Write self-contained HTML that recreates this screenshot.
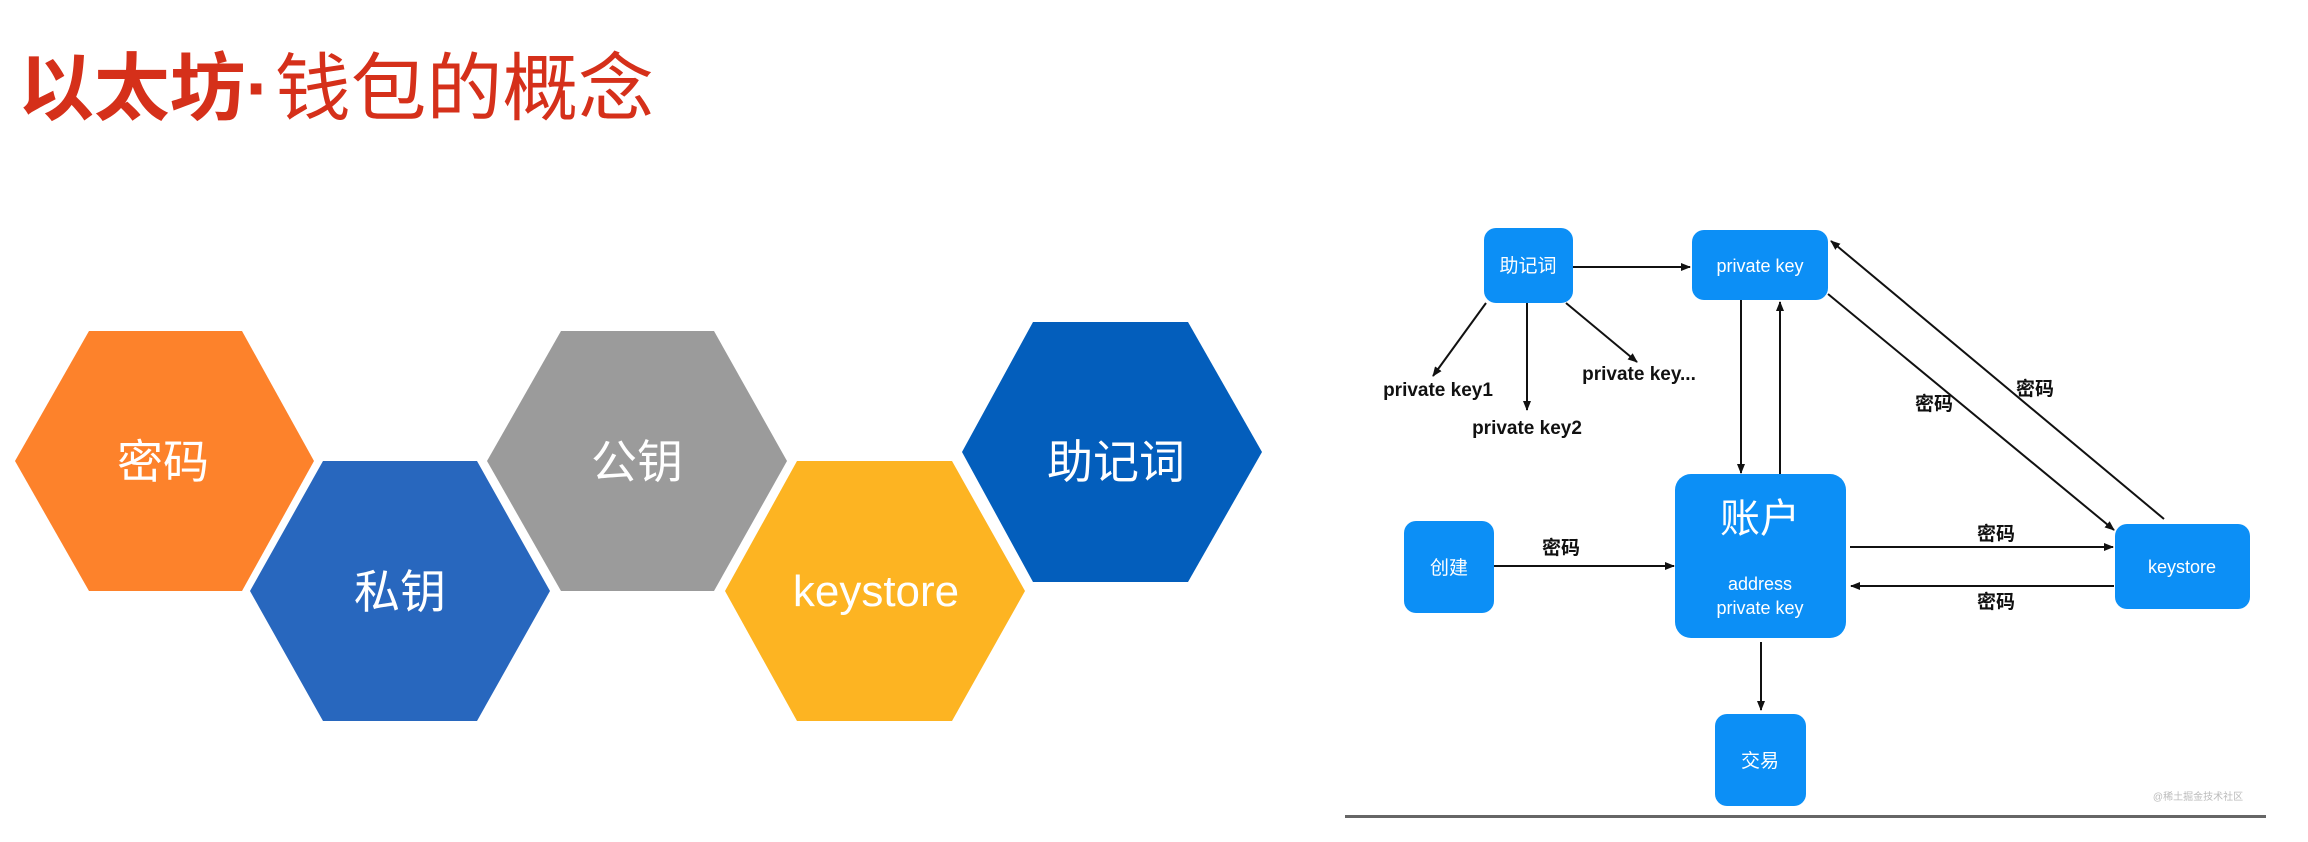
<!DOCTYPE html>
<html><head><meta charset="utf-8"><style>
html,body{margin:0;padding:0;background:#fff;width:2308px;height:842px;overflow:hidden}
svg{display:block}
</style></head><body>
<svg width="2308" height="842" viewBox="0 0 2308 842" xmlns="http://www.w3.org/2000/svg">
<defs>
<marker id="a" markerWidth="10" markerHeight="8" refX="9" refY="4" orient="auto" markerUnits="userSpaceOnUse">
<path d="M0,0 L10,4 L0,8 z" fill="#111"/></marker>
</defs>
<text x="18" y="114" font-family="Liberation Sans, Noto Sans CJK SC, sans-serif" font-size="74" fill="#D5301A" textLength="636" lengthAdjust="spacingAndGlyphs"><tspan font-weight="bold">以太坊·</tspan><tspan dx="4">钱包的概念</tspan></text>

<g font-family="Liberation Sans, Noto Sans CJK SC, sans-serif" fill="#fff" font-size="46" text-anchor="middle">
<polygon points="15,461 89,331 242,331 314,461 242,591 89,591" fill="#FD822B"/>
<text x="163" y="478">密码</text>
<polygon points="250,591 323,461 477,461 550,591 477,721 323,721" fill="#2867BE"/>
<text x="400" y="608">私钥</text>
<polygon points="487,461 561,331 714,331 787,461 714,591 561,591" fill="#9B9B9B"/>
<text x="637" y="478">公钥</text>
<polygon points="725,591 797,461 952,461 1025,591 952,721 797,721" fill="#FDB422"/>
<text x="876" y="606" font-size="44">keystore</text>
<polygon points="962,452 1033,322 1188,322 1262,452 1188,582 1033,582" fill="#035EBC"/>
<text x="1116" y="478">助记词</text>
</g>

<g fill="#0C8FF6">
<rect x="1484" y="228" width="89" height="75" rx="12"/>
<rect x="1692" y="230" width="136" height="70" rx="12"/>
<rect x="1675" y="474" width="171" height="164" rx="16"/>
<rect x="1404" y="521" width="90" height="92" rx="12"/>
<rect x="2115" y="524" width="135" height="85" rx="12"/>
<rect x="1715" y="714" width="91" height="92" rx="12"/>
</g>
<g font-family="Liberation Sans, Noto Sans CJK SC, sans-serif" fill="#fff" text-anchor="middle">
<text x="1528" y="272" font-size="19">助记词</text>
<text x="1760" y="272" font-size="18">private key</text>
<text x="1760" y="532" font-size="40">账户</text>
<text x="1760" y="590" font-size="18">address</text>
<text x="1760" y="614" font-size="18">private key</text>
<text x="1449" y="574" font-size="19">创建</text>
<text x="2182" y="573" font-size="18">keystore</text>
<text x="1760" y="767" font-size="19">交易</text>
</g>

<g stroke="#111" stroke-width="2" fill="none" marker-end="url(#a)">
<line x1="1573" y1="267" x2="1690" y2="267"/>
<line x1="1486" y1="303" x2="1433" y2="376"/>
<line x1="1527" y1="303" x2="1527" y2="410"/>
<line x1="1566" y1="303" x2="1637" y2="362"/>
<line x1="1741" y1="300" x2="1741" y2="473"/>
<line x1="1780" y1="474" x2="1780" y2="302"/>
<line x1="1828" y1="294" x2="2114" y2="530"/>
<line x1="2164" y1="519" x2="1831" y2="241"/>
<line x1="1850" y1="547" x2="2113" y2="547"/>
<line x1="2114" y1="586" x2="1851" y2="586"/>
<line x1="1494" y1="566" x2="1674" y2="566"/>
<line x1="1761" y1="642" x2="1761" y2="710"/>
</g>

<g font-family="Liberation Sans, Noto Sans CJK SC, sans-serif" fill="#111" font-weight="bold" font-size="19" text-anchor="middle">
<text x="1438" y="396">private key1</text>
<text x="1527" y="434">private key2</text>
<text x="1639" y="380">private key...</text>
<text x="1934" y="410">密码</text>
<text x="2035" y="395">密码</text>
<text x="1996" y="540">密码</text>
<text x="1996" y="608">密码</text>
<text x="1561" y="554">密码</text>
</g>
<text x="2198" y="800" font-family="Liberation Sans, Noto Sans CJK SC, sans-serif" font-size="10" fill="#bbb" text-anchor="middle">@稀土掘金技术社区</text>
<rect x="1345" y="815" width="921" height="3" fill="#666"/>
</svg>
</body></html>
